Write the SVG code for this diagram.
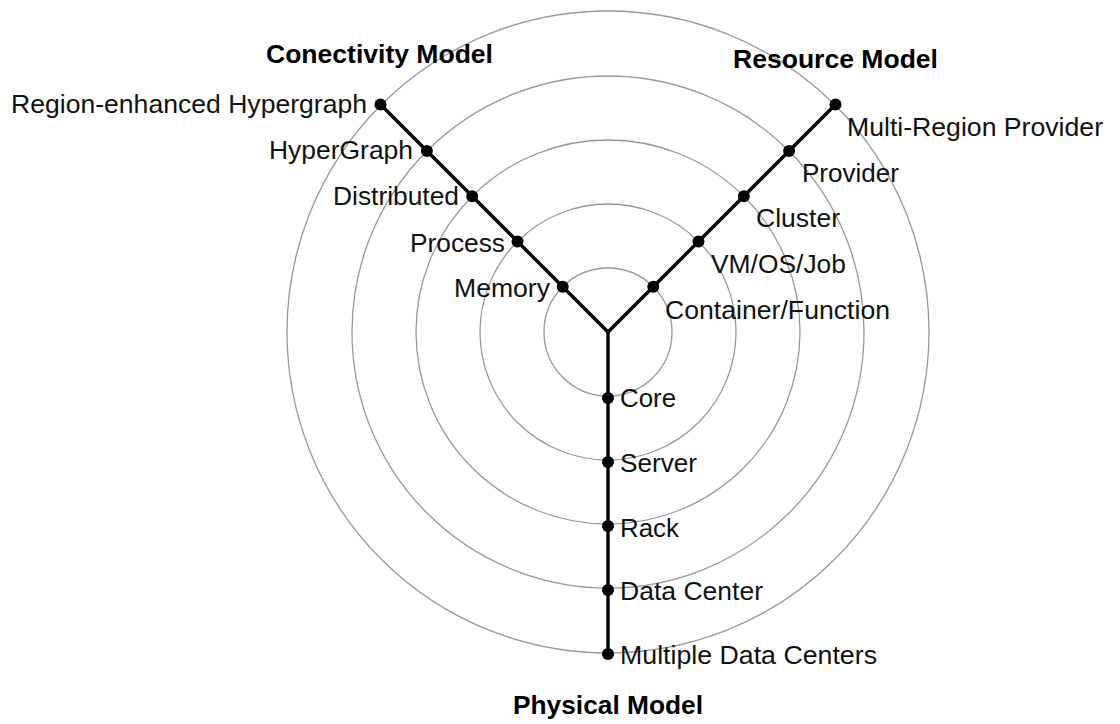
<svg xmlns="http://www.w3.org/2000/svg" width="1120" height="724" viewBox="0 0 1120 724">
<style>
.ring{fill:none;stroke:#999;stroke-width:1.3}
.arm{fill:none;stroke:#000;stroke-width:3.4;stroke-linejoin:miter}
.dot{fill:#000}
.lbl{font-family:"Liberation Sans",Arial,sans-serif;font-size:25px;fill:#111}
.ttl{font-family:"Liberation Sans",Arial,sans-serif;font-size:25px;font-weight:bold;fill:#000}
</style>
<rect width="1120" height="724" fill="#fff"/>
<g id="rings">
<circle class="ring" cx="608" cy="332" r="64"/>
<circle class="ring" cx="608" cy="332" r="128"/>
<circle class="ring" cx="608" cy="332" r="192"/>
<circle class="ring" cx="608" cy="332" r="256"/>
<circle class="ring" cx="608" cy="332" r="321"/>
</g>
<g id="connectors">
<path class="arm" d="M380.5,104.5 L608,332 L835.5,104.5"/>
<path class="arm" d="M608,332 L608,655"/>
</g>
<g id="titles">
<text id="t-conn" class="ttl" x="266" y="63" textLength="227" lengthAdjust="spacingAndGlyphs">Conectivity Model</text>
<text id="t-res" class="ttl" x="733" y="68" textLength="205" lengthAdjust="spacingAndGlyphs">Resource Model</text>
<text id="t-phys" class="ttl" x="513" y="714" textLength="190" lengthAdjust="spacingAndGlyphs">Physical Model</text>
</g>
<g id="conn-memory"><circle class="dot" cx="562.7" cy="286.7" r="6"/><text class="lbl" x="454" y="297" textLength="96" lengthAdjust="spacingAndGlyphs">Memory</text></g>
<g id="conn-process"><circle class="dot" cx="517.5" cy="241.5" r="6"/><text class="lbl" x="410" y="252" textLength="95" lengthAdjust="spacingAndGlyphs">Process</text></g>
<g id="conn-distributed"><circle class="dot" cx="472.2" cy="196.2" r="6"/><text class="lbl" x="333" y="205" textLength="126" lengthAdjust="spacingAndGlyphs">Distributed</text></g>
<g id="conn-hypergraph"><circle class="dot" cx="426.9" cy="150.9" r="6"/><text class="lbl" x="269" y="159" textLength="144" lengthAdjust="spacingAndGlyphs">HyperGraph</text></g>
<g id="conn-region"><circle class="dot" cx="380.5" cy="104.5" r="6"/><text class="lbl" x="11" y="113" textLength="356" lengthAdjust="spacingAndGlyphs">Region-enhanced Hypergraph</text></g>
<g id="res-container"><circle class="dot" cx="653.3" cy="286.7" r="6"/><text class="lbl" x="665" y="319" textLength="225" lengthAdjust="spacingAndGlyphs">Container/Function</text></g>
<g id="res-vm"><circle class="dot" cx="698.5" cy="241.5" r="6"/><text class="lbl" x="711" y="273" textLength="135" lengthAdjust="spacingAndGlyphs">VM/OS/Job</text></g>
<g id="res-cluster"><circle class="dot" cx="743.8" cy="196.2" r="6"/><text class="lbl" x="756" y="227" textLength="84" lengthAdjust="spacingAndGlyphs">Cluster</text></g>
<g id="res-provider"><circle class="dot" cx="789.1" cy="150.9" r="6"/><text class="lbl" x="802" y="182" textLength="97" lengthAdjust="spacingAndGlyphs">Provider</text></g>
<g id="res-multi"><circle class="dot" cx="835.5" cy="104.5" r="6"/><text class="lbl" x="847" y="136" textLength="256" lengthAdjust="spacingAndGlyphs">Multi-Region Provider</text></g>
<g id="phys-core"><circle class="dot" cx="608" cy="398" r="6"/><text class="lbl" x="620" y="407" textLength="56" lengthAdjust="spacingAndGlyphs">Core</text></g>
<g id="phys-server"><circle class="dot" cx="608" cy="462" r="6"/><text class="lbl" x="620" y="472" textLength="77" lengthAdjust="spacingAndGlyphs">Server</text></g>
<g id="phys-rack"><circle class="dot" cx="608" cy="526" r="6"/><text class="lbl" x="620" y="537" textLength="59" lengthAdjust="spacingAndGlyphs">Rack</text></g>
<g id="phys-dc"><circle class="dot" cx="608" cy="590" r="6"/><text class="lbl" x="620" y="600" textLength="143" lengthAdjust="spacingAndGlyphs">Data Center</text></g>
<g id="phys-multi"><circle class="dot" cx="608" cy="654" r="6"/><text class="lbl" x="620" y="664" textLength="257" lengthAdjust="spacingAndGlyphs">Multiple Data Centers</text></g>
</svg>
